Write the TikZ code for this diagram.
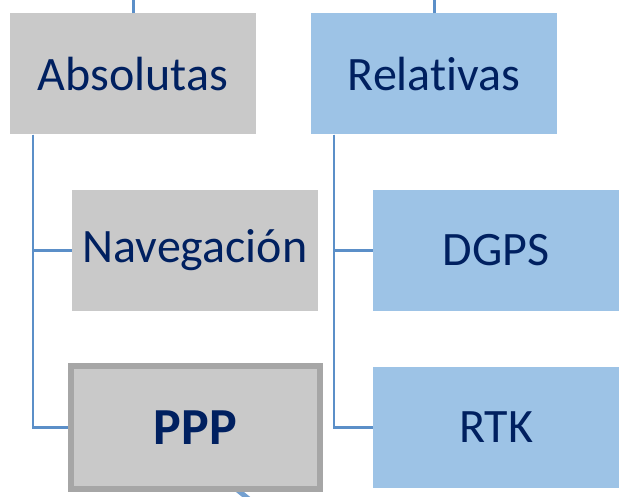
\documentclass[tikz,border=0pt]{standalone}
\usepackage{fontspec}
\setmainfont{Carlito}[Ligatures=NoCommon]
\usepackage{tikz}
\usetikzlibrary{positioning}

\definecolor{grisbox}{HTML}{C9C9C9}
\definecolor{azulbox}{HTML}{9DC3E6}
\definecolor{azultxt}{HTML}{002060}
\definecolor{azullin}{HTML}{5B8FC8}
\definecolor{grisbor}{HTML}{A6A6A6}

\tikzset{
  caja/.style={rectangle, minimum width=246pt, minimum height=121pt, inner sep=0pt,
    text=azultxt, font=\fontsize{48}{54}\selectfont},
  cajagris/.style={caja, fill=grisbox},
  cajaazul/.style={caja, fill=azulbox},
  rama/.style={draw=azullin, line width=2.5pt},
}

\begin{document}
\begin{tikzpicture}[x=1pt, y=-1pt]
\useasboundingbox (0,0) rectangle (629,497);
\clip (0,0) rectangle (629,497);
% trozo de flecha bajo PPP
\coordinate (cola) at (250,500);
\draw[azullin!85, line width=5pt] (225,480) -- (cola);
% cajas
\node[cajagris] (abs) at (133,74) {Absolutas};
\node[cajaazul] (rel) at (434,74) {Relativas};
\node[cajagris] (nav) at (195,250.5) {Navegación};
\node[cajaazul] (dgps) at (496,250.5) {DGPS};
\node[cajagris, draw=grisbor, line width=6pt, minimum width=249pt, minimum height=123pt,
  font=\fontsize{52}{58}\selectfont\bfseries] (ppp) at (195.5,427.5) {PPP};
\node[cajaazul] (rtk) at (496,427.5) {RTK};
% lineas
\coordinate (arribaA) at (133,0);
\coordinate (arribaR) at (434,0);
\draw[rama, line width=3pt] (abs.north) -- (arribaA);
\draw[rama, line width=3pt] (rel.north) -- (arribaR);
\draw[rama] ([xshift=23pt]abs.south west) |- (nav.west);
\draw[rama] ([xshift=23pt]abs.south west) |- (ppp.west);
\draw[rama] ([xshift=23pt]rel.south west) |- (dgps.west);
\draw[rama] ([xshift=23pt]rel.south west) |- (rtk.west);
\end{tikzpicture}
\end{document}
